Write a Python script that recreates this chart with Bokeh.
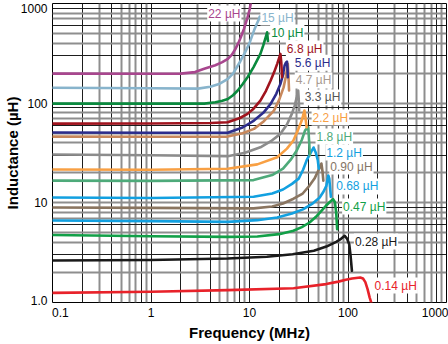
import math
from bokeh.plotting import figure
from bokeh.models import Range1d, FixedTicker, Grid, ColumnDataSource
from bokeh.core.properties import value
from bokeh.embed import file_html
from bokeh.resources import INLINE

# ---- data (frequency in MHz, inductance as plotted) ----
s014_f = [0.1, 1, 6, 28, 60, 80, 95, 110, 133, 142, 150, 158, 166, 175]
s014_L = [1.25, 1.28, 1.33, 1.39, 1.53, 1.62, 1.69, 1.74, 1.78, 1.74, 1.6, 1.36, 1.12, 0.95]

s028_f = [0.1, 1, 6, 15, 27.4, 45, 60.3, 75.9, 85, 92.6, 97.7, 102.9, 106, 109.6]
s028_L = [2.64, 2.67, 2.76, 2.88, 3.05, 3.3, 3.64, 4.06, 4.35, 4.67, 4.38, 3.84, 3.0, 2.08]

s047_f = [0.1, 1, 6, 12, 20, 27.9, 34, 40.7, 47, 53.7, 60, 65.3, 70.5, 73.5, 75.9, 77.6]
s047_L = [4.75, 4.62, 4.55, 4.6, 4.85, 5.24, 5.7, 6.35, 7.2, 8.32, 9.4, 10.2, 10.9, 10.2, 8.0, 5.44]

s068_f = [0.1, 1, 6, 12, 19.1, 27, 34.9, 44, 51.6, 56.5, 60.3, 63.1, 64.6, 66.1, 67]
s068_L = [6.64, 6.55, 6.44, 6.7, 7.14, 7.8, 8.6, 9.9, 11.3, 13, 14.8, 18.8, 17.5, 13.3, 11.5]

s090_f = [0.1, 1, 11, 17, 21.9, 28, 34.7, 40.5, 45.7, 51, 53.7, 55, 56.2]
s090_L = [8.97, 8.9, 8.8, 9.2, 9.85, 11, 12.4, 14.8, 17.5, 22, 24.8, 21, 16.7]

s12_f = [0.1, 1, 11, 17, 21.9, 27, 31.6, 35, 38, 42, 44.7, 47, 49.4, 50.5]
s12_L = [11.3, 11.2, 11.5, 12.4, 13.6, 15.5, 17.5, 21.5, 26.6, 32, 35.9, 32, 26.6, 22]

s18_f = [0.1, 1, 11, 17, 21.9, 26.5, 30.2, 34, 36.6, 38.3, 39.5, 40.4, 41]
s18_L = [16.7, 16.6, 16.9, 19, 22, 27.5, 33.5, 43, 53, 56, 57.3, 40, 30]

s22_f = [0.1, 1, 6, 12, 19.1, 24, 27.9, 30.9, 33.9, 35.3, 36.1, 37, 38]
s22_L = [21.6, 21.5, 22, 24.3, 28.7, 35, 42.2, 53, 66.9, 77, 84.3, 72, 57.3]

s33_f = [0.1, 1, 6, 9, 12.9, 16.5, 20.6, 24, 26.9, 28.8, 30.2, 31.2, 31.6, 31.9]
s33_L = [30.5, 30, 29.4, 31.8, 36.1, 41.5, 49.2, 61, 78.1, 95, 115, 134, 110, 84.3]

s47_f = [0.1, 1, 6, 8.5, 11.1, 14, 17.7, 20, 22.2, 23.4, 24, 24.5, 24.85, 25.2]
s47_L = [46.2, 46, 46.2, 50, 55.2, 66, 84.3, 108, 144, 185, 220, 248, 190, 134]

s56_f = [0.1, 1, 6, 8.5, 11.1, 13.8, 16.4, 18.7, 20.6, 21.8, 22.7, 23.4, 24, 24.3, 24.5]
s56_L = [50.7, 50.5, 50.5, 57, 66.9, 80, 98.4, 124, 156, 190, 238, 255, 261, 225, 182]

s68_f = [0.1, 1, 4, 6, 8, 9.55, 11, 12.9, 14.7, 16.4, 17.8, 19.1, 20, 20.6, 21.0, 21.4]
s68_L = [62.4, 62.5, 63.2, 64.3, 71, 78.1, 88, 106, 133, 169, 205, 248, 285, 312, 260, 182]

s10_f = [0.1, 1, 3.47, 4.5, 5.3, 6.03, 6.8, 7.59, 8.5, 9.55, 11, 12.9, 13.8, 14.6, 15.1, 15.4]
s10_L = [99, 99, 99, 102, 106, 110, 120, 134, 155, 182, 230, 312, 380, 458, 514, 420]

s15_f = [0.1, 1, 3, 4, 5, 6.03, 6.8, 7.41, 8.1, 8.85, 10, 11.1, 12, 12.5, 12.7]
s15_L = [143, 141, 140, 146, 157, 175, 198, 228, 265, 312, 400, 535, 640, 701, 740]

s220_f = [0.1, 1, 2, 2.8, 3.47, 4.5, 5.3, 6.03, 6.6, 7.2, 7.7, 8.16, 8.8, 9.55, 10.0, 10.3, 10.6]
s220_L = [198, 197, 198, 205, 221, 240, 258, 278, 305, 350, 400, 458, 560, 727, 860, 1000, 1150]

series_names = ["0.14 µH", "0.28 µH", "0.47 µH", "0.68 µH", "0.90 µH", "1.2 µH",
                "1.8 µH", "2.2 µH", "3.3 µH", "4.7 µH", "5.6 µH", "6.8 µH",
                "10 µH", "15 µH", "22 µH"]
series_f = [s014_f, s028_f, s047_f, s068_f, s090_f, s12_f, s18_f, s22_f, s33_f,
            s47_f, s56_f, s68_f, s10_f, s15_f, s220_f]
series_L = [s014_L, s028_L, s047_L, s068_L, s090_L, s12_L, s18_L, s22_L, s33_L,
            s47_L, s56_L, s68_L, s10_L, s15_L, s220_L]
line_colors = ["#e8222a", "#1a1a1a", "#12a048", "#12a0e0", "#8a7560", "#12a0e0",
               "#4eaa7a", "#f8a044", "#8c8c8c", "#c8885c", "#2c2c8c", "#a0141e",
               "#0a8a3e", "#88b4cc", "#a8468e"]
text_colors = ["#e8222a", "#1a1a1a", "#12a048", "#12a0e0", "#857565", "#12a0e0",
               "#4eaa7a", "#f8a044", "#555555", "#a89a90", "#2c2c8c", "#a0141e",
               "#0a8a3e", "#88b4cc", "#a8468e"]

# label anchors (data units, left edge / middle of text)
label_mhz = [182, 114.8, 87.1, 74.1, 64.6, 58.9, 46.8, 42.7, 35.5, 28.8, 28.2, 23.4, 16.2, 12.9, 3.72]
label_uh = [1.48, 4.09, 9.18, 14.6, 23.1, 31.9, 46.2, 71.7, 114, 169, 255, 353, 511, 722, 792]

x_ticks = [0.1, 1, 10, 100, 1000]
x_tick_labels = ["0.1", "1", "10", "100", "1000"]
y_ticks = [1, 10, 100, 1000]
y_tick_labels = ["1.0", "10", "100", "1000"]

# edge tick labels are nudged inward (pixels: +right / +up) as in the original artwork
PX_DEC_X, PX_DEC_Y = 100.0, 99.7
x_nudge_px = [8, 0, 0, 0, -11.5]
y_nudge_px = [2, 0, 0, -5]
x_label_at = [t * 10 ** (n / PX_DEC_X) for t, n in zip(x_ticks, x_nudge_px)]
y_label_at = [t * 10 ** (n / PX_DEC_Y) for t, n in zip(y_ticks, y_nudge_px)]

FONT = "Liberation Sans"

p = figure(width=448, height=344, x_axis_type="log", y_axis_type="log",
           x_range=Range1d(x_ticks[0], x_ticks[-1]), y_range=Range1d(y_ticks[0], y_ticks[-1]),
           output_backend="svg", toolbar_location=None,
           min_border_left=46, min_border_right=2, min_border_top=3, min_border_bottom=42)
p.background_fill_color = "white"
p.border_fill_color = "white"
p.outline_line_color = "black"
p.outline_line_width = 1
p.xgrid.visible = False
p.ygrid.visible = False

# dense black / gray grid
def mults(ms, lo, hi):
    return [m * 10 ** e for e in range(lo, hi) for m in ms]

p.add_layout(Grid(dimension=0, ticker=FixedTicker(ticks=mults([3, 5, 6, 7, 9], -1, 3)),
                  grid_line_color="#8e8e8e", grid_line_width=2))
p.add_layout(Grid(dimension=0, ticker=FixedTicker(ticks=mults([2, 4, 8, 10], -1, 3)),
                  grid_line_color="#1e1e1e", grid_line_width=1))
p.add_layout(Grid(dimension=1, ticker=FixedTicker(ticks=mults([2, 4, 5, 7, 8, 10], 0, 3)),
                  grid_line_color="#8e8e8e", grid_line_width=2))
p.add_layout(Grid(dimension=1, ticker=FixedTicker(ticks=mults([3, 6, 9], 0, 3)),
                  grid_line_color="#1e1e1e", grid_line_width=1))

for fs, Ls, c in zip(series_f, series_L, line_colors):
    p.line(fs, Ls, line_color=c, line_width=2.6, line_join="round", line_cap="round")

src = ColumnDataSource(dict(x=label_mhz, y=label_uh, t=series_names, c=text_colors))
p.text(x="x", y="y", text="t", text_color="c", source=src,
       text_font=value(FONT), text_font_size="12px", text_align="left",
       text_baseline="middle", background_fill_color="white", padding=1)

# axes
for ax in (p.xaxis[0], p.yaxis[0]):
    ax.axis_line_color = None
    ax.major_tick_line_color = None
    ax.minor_tick_line_color = None
    ax.major_tick_out = 0
    ax.major_tick_in = 0
    ax.minor_tick_out = 0
    ax.minor_tick_in = 0
    ax.major_label_text_font = FONT
    ax.major_label_text_font_size = "12px"
    ax.major_label_text_color = "black"
    ax.major_label_standoff = 5
    ax.axis_label_text_font = FONT
    ax.axis_label_text_font_style = "bold"
    ax.axis_label_text_font_size = "15px"
    ax.axis_label_text_color = "black"

p.xaxis.ticker = FixedTicker(ticks=x_label_at)
p.xaxis.major_label_overrides = dict(zip(x_label_at, x_tick_labels))
p.xaxis.axis_label = "Frequency (MHz)"
p.xaxis.axis_label_standoff = 4

p.yaxis.ticker = FixedTicker(ticks=y_label_at)
p.yaxis.major_label_overrides = dict(zip(y_label_at, y_tick_labels))
p.yaxis.axis_label = "Inductance (µH)"
p.yaxis.axis_label_standoff = -3

open("out.html", "w").write(file_html(p, INLINE))
